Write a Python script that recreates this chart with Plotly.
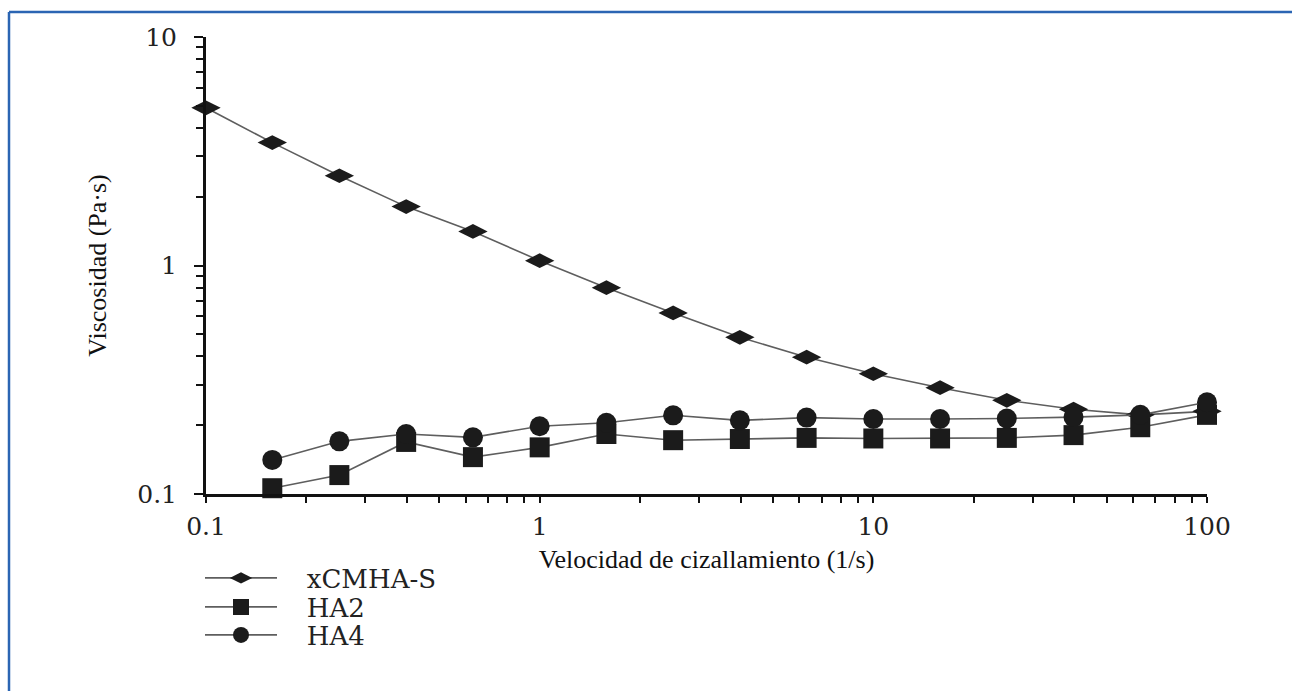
import plotly.graph_objects as go

# Shear rate (1/s), five points per decade
shear_rate = [0.1, 0.158, 0.251, 0.398, 0.631, 1.0, 1.585, 2.512, 3.981,
              6.31, 10.0, 15.85, 25.12, 39.81, 63.1, 100.0]

# Viscosity (Pa·s)
visc_xcmha_s = [4.9, 3.45, 2.47, 1.81, 1.41, 1.05, 0.80, 0.62, 0.485,
                0.397, 0.336, 0.292, 0.257, 0.235, 0.222, 0.23]
visc_ha2 = [0.106, 0.121, 0.169, 0.145, 0.160, 0.183, 0.172, 0.174,
            0.176, 0.175, 0.175, 0.176, 0.181, 0.196, 0.222]
visc_ha4 = [0.141, 0.170, 0.183, 0.177, 0.198, 0.205, 0.221, 0.210,
            0.216, 0.213, 0.213, 0.214, 0.217, 0.222, 0.252]

series_names = ["xCMHA-S", "HA2", "HA4"]

x_tickvals = [0.1, 1, 10, 100]
x_ticktext = ["0.1", "1", "10", "100"]
y_tickvals = [0.1, 1, 10]
y_ticktext = ["0.1", "1", "10"]

W, H = 1292, 691
L, R, T, B = 206, 85, 37, 197
plot_w = W - L - R
plot_h = H - T - B


def px_x(px):
    return (px - L) / plot_w


def px_y(py):
    return (H - B - py) / plot_h


mark_color = "#1b1b1b"
line_style = dict(color="#5e5e5e", width=1.6)
gap = "\u00a0\u00a0\u00a0"

fig = go.Figure()
fig.add_trace(go.Scatter(
    x=shear_rate, y=visc_xcmha_s, name=gap + series_names[0],
    mode="lines+markers", line=line_style, cliponaxis=False, legend="legend",
    marker=dict(symbol="diamond-wide", size=21, color=mark_color)))
fig.add_trace(go.Scatter(
    x=shear_rate[1:], y=visc_ha2, name=gap + series_names[1],
    mode="lines+markers", line=line_style, cliponaxis=False, legend="legend2",
    marker=dict(symbol="square", size=20, color=mark_color)))
fig.add_trace(go.Scatter(
    x=shear_rate[1:], y=visc_ha4, name=gap + series_names[2],
    mode="lines+markers", line=line_style, cliponaxis=False, legend="legend3",
    marker=dict(symbol="circle", size=20, color=mark_color)))

tick_font = dict(family="DejaVu Serif", size=25, color="#222")
title_font = dict(family="Liberation Serif", size=26, color="#111")

fig.update_xaxes(
    type="log", range=[-1, 2], showgrid=False, zeroline=False,
    showline=True, linecolor="#111", linewidth=3,
    tickvals=x_tickvals, ticktext=x_ticktext,
    ticks="outside", ticklen=6, tickwidth=2, tickcolor="#111",
    minor=dict(ticks="outside", ticklen=6, tickwidth=2, tickcolor="#111",
               dtick="D1", showgrid=False),
    tickfont=tick_font, ticklabelstandoff=2,
    title=dict(text="Velocidad de cizallamiento (1/s)", font=title_font,
               standoff=10),
)
fig.update_yaxes(
    type="log", range=[-1, 1], showgrid=False, zeroline=False,
    showline=True, linecolor="#111", linewidth=3,
    tickvals=y_tickvals, ticktext=y_ticktext,
    ticks="outside", ticklen=9, tickwidth=2, tickcolor="#111",
    minor=dict(ticks="outside", ticklen=7, tickwidth=2, tickcolor="#111",
               dtick="D1", showgrid=False),
    tickfont=tick_font, ticklabelstandoff=12,
    title=dict(text="Viscosidad (Pa·s)", font=title_font, standoff=24),
)

# Blue frame lines along the top and left edges
frame_color = "#2b65b3"
fig.add_shape(type="line", xref="paper", yref="paper",
              x0=px_x(9), x1=px_x(W), y0=px_y(12), y1=px_y(12),
              line=dict(color=frame_color, width=2.5))
fig.add_shape(type="line", xref="paper", yref="paper",
              x0=px_x(9), x1=px_x(9), y0=px_y(12), y1=px_y(H),
              line=dict(color=frame_color, width=2.5))

legend_font = dict(family="DejaVu Serif", size=26, color="#222")
legend_rows = [578, 607, 635]
legend_common = dict(xanchor="left", yanchor="middle", itemwidth=72,
                     font=legend_font, bgcolor="rgba(0,0,0,0)",
                     borderwidth=0)

fig.update_layout(
    width=W, height=H,
    margin=dict(l=L, r=R, t=T, b=B),
    paper_bgcolor="white", plot_bgcolor="white",
    showlegend=True,
    legend=dict(x=px_x(200), y=px_y(legend_rows[0]), **legend_common),
    legend2=dict(x=px_x(200), y=px_y(legend_rows[1]), **legend_common),
    legend3=dict(x=px_x(200), y=px_y(legend_rows[2]), **legend_common),
)

fig.write_html("out.html")
